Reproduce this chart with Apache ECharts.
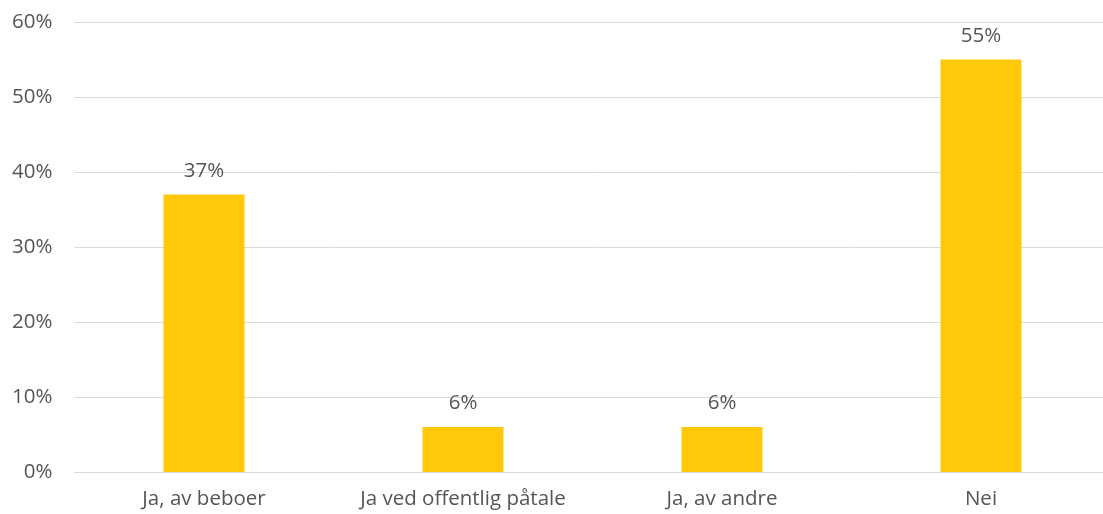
<!DOCTYPE html>
<html>
<head>
<meta charset="utf-8">
<script src="https://cdn.jsdelivr.net/npm/echarts@6/dist/echarts.min.js"></script>
<style>
  html, body { margin: 0; padding: 0; background: #fff; overflow: hidden; }
  /* chart is a bit wider than the window: the plot area runs off the right edge like the original */
  #chart { width: 1111px; height: 514px; }
</style>
</head>
<body>
<div id="chart"></div>
<script>
const categories = ['Ja, av beboer', 'Ja ved offentlig påtale', 'Ja, av andre', 'Nei'];
const values = [37, 6, 6, 55];
const yTicks = [0, 10, 20, 30, 40, 50, 60];

const colors = {
  bar: '#FFC909',
  text: '#555555',
  grid: '#D9D9D9'
};
const fontFamily = '"Open Sans", sans-serif';

const option = {
  animation: false,
  grid: { left: 74.5, right: 0.5, top: 22, bottom: 42 },
  xAxis: {
    type: 'category',
    data: categories,
    axisLine: { lineStyle: { color: colors.grid, width: 1 } },
    axisTick: { show: false },
    axisLabel: { color: colors.text, fontSize: 20.5, fontFamily, margin: 17, interval: 0 }
  },
  yAxis: {
    type: 'value',
    min: yTicks[0],
    max: yTicks[yTicks.length - 1],
    interval: 10,
    axisLine: { show: false },
    axisTick: { show: false },
    splitLine: { lineStyle: { color: colors.grid, width: 1 } },
    axisLabel: { color: colors.text, fontSize: 20.5, fontFamily, margin: 22, formatter: '{value}%' }
  },
  series: [{
    type: 'bar',
    data: values,
    barWidth: 81,
    itemStyle: { color: colors.bar },
    label: {
      show: true,
      position: 'top',
      distance: 13,
      color: colors.text,
      fontSize: 20.5,
      fontFamily,
      formatter: '{c}%'
    }
  }]
};

const myChart = echarts.init(document.getElementById('chart'));
myChart.setOption(option);
</script>
</body>
</html>
